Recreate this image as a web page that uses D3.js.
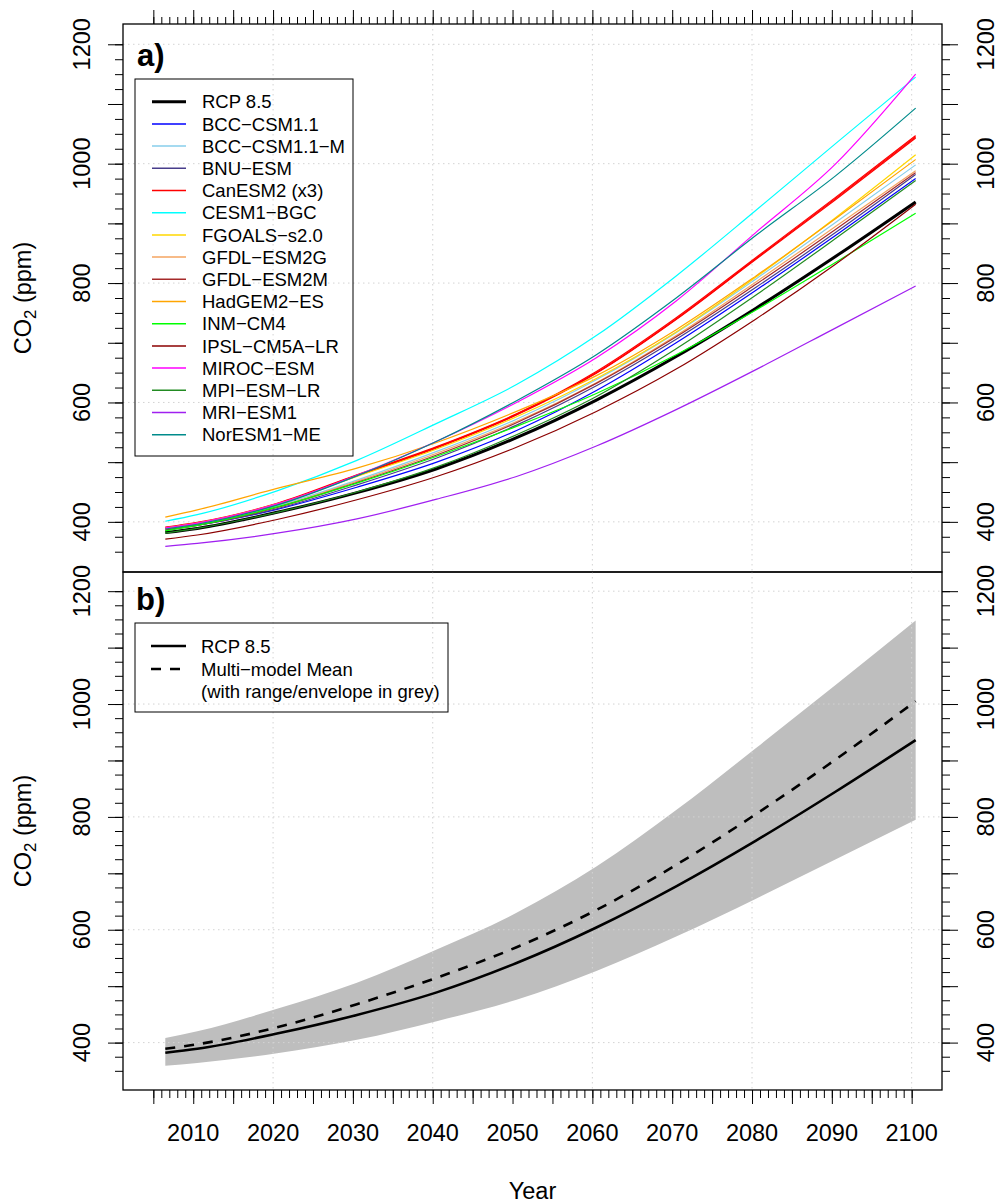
<!DOCTYPE html>
<html><head><meta charset="utf-8">
<script src="https://cdn.jsdelivr.net/npm/d3@7"></script>
<style>
body{margin:0;background:#fff}
svg{display:block;font-family:"Liberation Sans",Arial,Helvetica,sans-serif}
</style>
</head><body>
<svg id="chart" width="1000" height="1203"></svg>
<script>
// ---------------- data (annual CO2, ppm) ----------------
const years = [2006, 2010, 2020, 2030, 2040, 2050, 2060, 2070, 2080, 2090, 2100];

const rcp85      = [382, 389, 416, 449, 489, 541, 604, 677, 758, 845, 936];
const bccCsm11   = [389, 395, 421, 458, 500, 553, 620, 700, 788, 880, 975];
const bccCsm11M  = [391, 398, 427, 470, 518, 572, 638, 717, 807, 902, 998];
const bnuEsm     = [386, 394, 422, 462, 507, 562, 628, 706, 793, 885, 982];
const canEsm2r1  = [390, 398, 430, 478, 525, 580, 650, 740, 841, 942, 1045];
const canEsm2r2  = [389, 397, 429, 477, 524, 579, 649, 739, 840, 940, 1043];
const canEsm2r3  = [391, 399, 431, 479, 526, 581, 652, 742, 843, 944, 1047];
const cesm1Bgc   = [401, 412, 452, 503, 565, 630, 712, 812, 922, 1034, 1145];
const fgoalsS2   = [390, 398, 430, 476, 522, 576, 640, 718, 810, 910, 1015];
const gfdlEsm2G  = [388, 396, 425, 468, 515, 568, 633, 712, 802, 895, 988];
const gfdlEsm2M  = [386, 394, 424, 466, 512, 566, 632, 710, 798, 890, 985];
const hadgem2Es  = [408, 420, 456, 490, 533, 585, 645, 722, 812, 908, 1007];
const inmCm4     = [385, 394, 425, 465, 510, 560, 615, 680, 755, 835, 917];
const ipslCm5aLr = [371, 378, 404, 437, 476, 525, 585, 656, 740, 832, 932];
const mirocEsm   = [390, 398, 430, 478, 535, 600, 675, 770, 885, 1000, 1150];
const mpiEsmLr   = [381, 389, 416, 450, 492, 546, 610, 690, 780, 875, 972];
const mriEsm1    = [359, 364, 381, 405, 438, 476, 527, 588, 655, 725, 795];
const norEsm1Me  = [388, 396, 428, 477, 535, 603, 680, 775, 880, 980, 1093];

// panel b: multi-model mean and envelope
const ensMean = [389, 397, 427, 468, 515, 569, 635, 715, 805, 902, 1005];
const ensMax  = [408, 420, 460, 506, 565, 630, 712, 812, 922, 1034, 1148];
const ensMin  = [359, 364, 381, 405, 438, 476, 527, 588, 655, 725, 795];

// legend labels
const legendNamesA = ["RCP 8.5","BCC\u2212CSM1.1","BCC\u2212CSM1.1\u2212M","BNU\u2212ESM","CanESM2 (x3)","CESM1\u2212BGC",
  "FGOALS\u2212s2.0","GFDL\u2212ESM2G","GFDL\u2212ESM2M","HadGEM2\u2212ES","INM\u2212CM4","IPSL\u2212CM5A\u2212LR",
  "MIROC\u2212ESM","MPI\u2212ESM\u2212LR","MRI\u2212ESM1","NorESM1\u2212ME"];
const legendNamesB = ["RCP 8.5","Multi\u2212model Mean","(with range/envelope in grey)"];

// tick values
const yLabelTicks = [400, 600, 800, 1000, 1200];
const yMajorTicks = d3.range(400, 1201, 100);
const yMinorTicks = d3.range(350, 1201, 25);
const xLabelTicks = d3.range(2010, 2101, 10);
const xMajorTicks = d3.range(2005, 2101, 5);
const xMinorTicks = d3.range(2005, 2101, 1);
const xGrid = [2020, 2040, 2060, 2080, 2100];
const yGrid = [400, 600, 800, 1000, 1200];

// ---------------- styling ----------------
const modelSeries = [bccCsm11, bccCsm11M, bnuEsm, canEsm2r1, canEsm2r2, canEsm2r3, cesm1Bgc, fgoalsS2, gfdlEsm2G,
  gfdlEsm2M, hadgem2Es, inmCm4, ipslCm5aLr, mirocEsm, mpiEsmLr, mriEsm1, norEsm1Me];
const modelSeriesColors = ["#0000FF","#87CEEB","#483D8B","#FF0000","#FF0000","#FF0000","#00FFFF","#FFD700","#F4A460",
  "#A52A2A","#FFA500","#00FF00","#8B0000","#FF00FF","#228B22","#A020F0","#008B8B"];
const legendColorsA = ["#000000","#0000FF","#87CEEB","#483D8B","#FF0000","#00FFFF","#FFD700","#F4A460","#A52A2A",
  "#FFA500","#00FF00","#8B0000","#FF00FF","#228B22","#A020F0","#008B8B"];

const FS = 23.5, LFS = 18.5;
const L = 123, R = 942, aTop = 24, mid = 572, bBot = 1090;
const svg = d3.select("#chart");
svg.append("rect").attr("width",1000).attr("height",1203).attr("fill","#fff");

const x = d3.scaleLinear().domain([2001.2, 2103.8]).range([L, R]);
const yA = d3.scaleLinear().domain([316, 1234]).range([mid, aTop]);
const yB = d3.scaleLinear().domain([316, 1234]).range([bBot, mid]);
const xp = (i) => x(years[i] + 0.5);

function grid(y, top, bot) {
  const g = svg.append("g").attr("stroke", "#D3D3D3").attr("stroke-width", 1).attr("stroke-dasharray", "1.5,3.5");
  g.selectAll(null).data(yGrid).join("line").attr("x1", L).attr("x2", R).attr("y1", d => y(d)).attr("y2", d => y(d));
  g.selectAll(null).data(xGrid).join("line").attr("x1", d => x(d)).attr("x2", d => x(d)).attr("y1", top).attr("y2", bot);
}

function yAxes(y) {
  const clean = s => s.select(".domain").remove();
  svg.append("g").attr("transform", `translate(${L},0)`).call(d3.axisLeft(y).tickValues(yMinorTicks).tickSize(8).tickFormat("")).call(clean);
  svg.append("g").attr("transform", `translate(${L},0)`).call(d3.axisLeft(y).tickValues(yMajorTicks).tickSize(15).tickFormat("")).call(clean);
  svg.append("g").attr("transform", `translate(${R},0)`).call(d3.axisRight(y).tickValues(yMinorTicks).tickSize(8).tickFormat("")).call(clean);
  svg.append("g").attr("transform", `translate(${R},0)`).call(d3.axisRight(y).tickValues(yMajorTicks).tickSize(16).tickFormat("")).call(clean);
  const lab = svg.append("g").attr("font-size", FS).attr("fill", "#000");
  lab.selectAll(null).data(yLabelTicks).join("text").attr("text-anchor", "middle")
    .attr("transform", d => `translate(${L - 33},${y(d)}) rotate(-90)`).text(d => d);
  lab.selectAll(null).data(yLabelTicks).join("text").attr("text-anchor", "middle")
    .attr("transform", d => `translate(${R + 52},${y(d)}) rotate(-90)`).text(d => d);
}

function yTitle(cy) {
  const t = svg.append("text").attr("font-size", FS).attr("text-anchor", "middle")
    .attr("transform", `translate(31,${cy}) rotate(-90)`);
  t.append("tspan").text("CO");
  t.append("tspan").attr("font-size", FS * 0.72).attr("dy", 5).text("2");
  t.append("tspan").attr("dy", -5).text(" (ppm)");
}

// ================= panel a =================
grid(yA, aTop, mid);
const lineA = (arr) => d3.line().x((d, i) => xp(i)).y(d => yA(d)).curve(d3.curveMonotoneX)(arr);
svg.append("path").attr("d", lineA(rcp85)).attr("fill", "none").attr("stroke", "#000").attr("stroke-width", 3);
svg.append("g").selectAll("path").data(modelSeries).join("path")
  .attr("d", d => lineA(d)).attr("fill", "none")
  .attr("stroke", (d, i) => modelSeriesColors[i]).attr("stroke-width", 1.2);

svg.append("g").attr("transform", `translate(0,${aTop})`).call(d3.axisTop(x).tickValues(xMinorTicks).tickSize(7).tickFormat("")).call(s => s.select(".domain").remove());
svg.append("g").attr("transform", `translate(0,${aTop})`).call(d3.axisTop(x).tickValues(xMajorTicks).tickSize(14).tickFormat("")).call(s => s.select(".domain").remove());
yAxes(yA);
yTitle((aTop + mid) / 2);
svg.append("text").attr("x", 137).attr("y", 66).attr("font-size", 31).attr("font-weight", "bold").text("a)");

const legA = svg.append("g");
legA.append("rect").attr("x", 135).attr("y", 79).attr("width", 218).attr("height", 377)
  .attr("fill", "none").attr("stroke", "#000").attr("stroke-width", 1);
legendNamesA.forEach((name, i) => {
  const cy = 101.7 + i * 22.2;
  legA.append("line").attr("x1", 152).attr("x2", 186).attr("y1", cy).attr("y2", cy)
    .attr("stroke", legendColorsA[i]).attr("stroke-width", i === 0 ? 3 : 1.5);
  legA.append("text").attr("x", 202).attr("y", cy).attr("dy", "0.36em").attr("font-size", LFS).text(name);
});

svg.append("rect").attr("x", L).attr("y", aTop).attr("width", R - L).attr("height", mid - aTop)
  .attr("fill", "none").attr("stroke", "#000").attr("stroke-width", 1.3);

// ================= panel b =================
const area = d3.area().x((d, i) => xp(i)).y0((d, i) => yB(ensMin[i])).y1(d => yB(d)).curve(d3.curveMonotoneX);
svg.append("path").attr("d", area(ensMax)).attr("fill", "#BEBEBE");
grid(yB, mid, bBot);
const lineB = (arr) => d3.line().x((d, i) => xp(i)).y(d => yB(d)).curve(d3.curveMonotoneX)(arr);
svg.append("path").attr("d", lineB(rcp85)).attr("fill", "none").attr("stroke", "#000").attr("stroke-width", 2.6);
svg.append("path").attr("d", lineB(ensMean)).attr("fill", "none").attr("stroke", "#000").attr("stroke-width", 2.6)
  .attr("stroke-dasharray", "10,9");

svg.append("g").attr("transform", `translate(0,${bBot})`).call(d3.axisBottom(x).tickValues(xMinorTicks).tickSize(8).tickFormat("")).call(s => s.select(".domain").remove());
svg.append("g").attr("transform", `translate(0,${bBot})`).call(d3.axisBottom(x).tickValues(xMajorTicks).tickSize(14).tickFormat("")).call(s => s.select(".domain").remove());
svg.append("g").attr("font-size", FS).selectAll(null).data(xLabelTicks).join("text")
  .attr("x", d => x(d)).attr("y", 1141).attr("text-anchor", "middle").text(d => d);
svg.append("text").attr("x", (L + R) / 2).attr("y", 1199).attr("text-anchor", "middle").attr("font-size", FS).text("Year");
yAxes(yB);
yTitle((mid + bBot) / 2);
svg.append("text").attr("x", 136).attr("y", 610).attr("font-size", 31).attr("font-weight", "bold").text("b)");

const legB = svg.append("g");
legB.append("rect").attr("x", 135).attr("y", 623).attr("width", 313).attr("height", 89)
  .attr("fill", "none").attr("stroke", "#000").attr("stroke-width", 1);
[646, 669, 691].forEach((cy, i) => {
  if (i < 2) legB.append("line").attr("x1", 151).attr("x2", 186).attr("y1", cy).attr("y2", cy)
    .attr("stroke", "#000").attr("stroke-width", 2.6).attr("stroke-dasharray", i === 1 ? "10,9" : null);
  legB.append("text").attr("x", 201).attr("y", cy).attr("dy", "0.36em").attr("font-size", LFS).text(legendNamesB[i]);
});

svg.append("rect").attr("x", L).attr("y", mid).attr("width", R - L).attr("height", bBot - mid)
  .attr("fill", "none").attr("stroke", "#000").attr("stroke-width", 1.3);
</script>
</body></html>
